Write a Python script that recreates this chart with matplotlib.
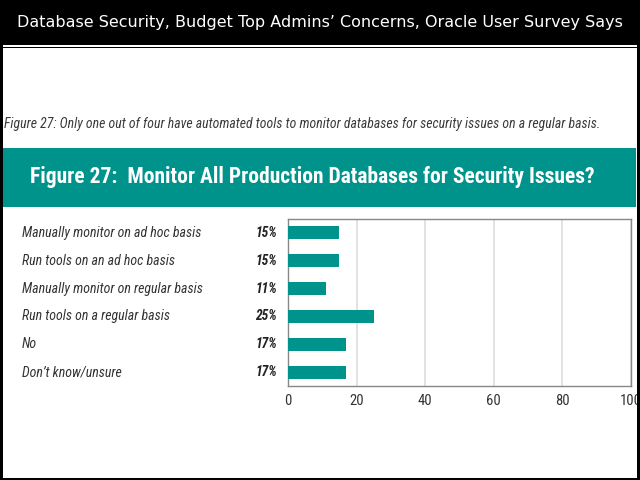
import matplotlib
matplotlib.use("Agg")
import matplotlib.pyplot as plt
from matplotlib.patches import Rectangle
from matplotlib.transforms import blended_transform_factory
from matplotlib import font_manager

categories = [
    "Manually monitor on ad hoc basis",
    "Run tools on an ad hoc basis",
    "Manually monitor on regular basis",
    "Run tools on a regular basis",
    "No",
    "Don\u2019t know/unsure",
]
values = [15, 15, 11, 25, 17, 17]
xticks = [0, 20, 40, 60, 80, 100]

header = "Database Security, Budget Top Admins\u2019 Concerns, Oracle User Survey Says"
subtitle = "Figure 27: Only one out of four have automated tools to monitor databases for security issues on a regular basis."
title = "Figure 27:  Monitor All Production Databases for Security Issues?"

names = {f.name for f in font_manager.fontManager.ttflist}
narrow = [n for n in ["Roboto Condensed", "Liberation Sans Narrow", "Roboto", "DejaVu Sans"] if n in names]

TEAL = "#00938c"
W, H = 640, 480

fig = plt.figure(figsize=(6.4, 4.8), dpi=100)
fig.patch.set_facecolor("white")

def px(x, y):
    return x / W, 1 - y / H

# header band
fig.patches.append(Rectangle((0, 1 - 48 / H), 1, 48 / H, transform=fig.transFigure,
                             facecolor="black", edgecolor="none", zorder=0))
fig.patches.append(Rectangle((0, 1 - 46.5 / H), 1, 1.2 / H, transform=fig.transFigure,
                             facecolor="white", edgecolor="none", zorder=1))
# outer black borders
fig.patches.append(Rectangle((0, 0), 3 / W, 1, transform=fig.transFigure,
                             facecolor="black", edgecolor="none", zorder=1))
fig.patches.append(Rectangle((1 - 3 / W, 0), 3 / W, 1, transform=fig.transFigure,
                             facecolor="black", edgecolor="none", zorder=1))
fig.patches.append(Rectangle((0, 0), 1, 2 / H, transform=fig.transFigure,
                             facecolor="black", edgecolor="none", zorder=1))
fig.text(*px(320, 23), header, color="white", fontsize=11.5, ha="center", va="center",
         family=["DejaVu Sans"])

# subtitle
fig.text(*px(4, 124), subtitle, color="#3a3a3a", fontsize=9.9, style="italic",
         ha="left", va="center", family=narrow)

# teal band
fig.patches.append(Rectangle(px(3, 207), (636 - 3) / W, (207 - 148) / H, transform=fig.transFigure,
                             facecolor=TEAL, edgecolor="none", zorder=1))
fig.text(*px(30, 177), title, color="white", fontsize=15.5, weight="bold",
         ha="left", va="center", family=narrow)

# chart axes
l, r, t, b = 288, 631, 219, 386
ax = fig.add_axes([l / W, 1 - b / H, (r - l) / W, (b - t) / H])
ypos = list(range(len(values)))
ax.barh(ypos, values, height=0.47, color=TEAL, zorder=3)
ax.set_xlim(0, 100)
ax.set_ylim(len(values) - 0.5, -0.5)
ax.set_xticks(xticks)
ax.set_xticklabels([str(v) for v in xticks], family=narrow, fontsize=10.5, color="#333333")
ax.set_yticks([])
ax.tick_params(axis="x", length=0, pad=6)
ax.grid(axis="x", color="#dddddd", linewidth=1.2, zorder=0)
for s in ax.spines.values():
    s.set_color("#888888")
    s.set_linewidth(1)

tr = blended_transform_factory(fig.transFigure, ax.transData)
for i, (c, v) in enumerate(zip(categories, values)):
    ax.text(22 / W, i, c, transform=tr, ha="left", va="center", fontsize=10,
            style="italic", color="#333333", family=narrow)
    ax.text(277 / W, i, f"{v}%", transform=tr, ha="right", va="center", fontsize=9.8,
            style="italic", weight="bold", color="#222222", family=narrow)

fig.savefig("out.png", dpi=100)
